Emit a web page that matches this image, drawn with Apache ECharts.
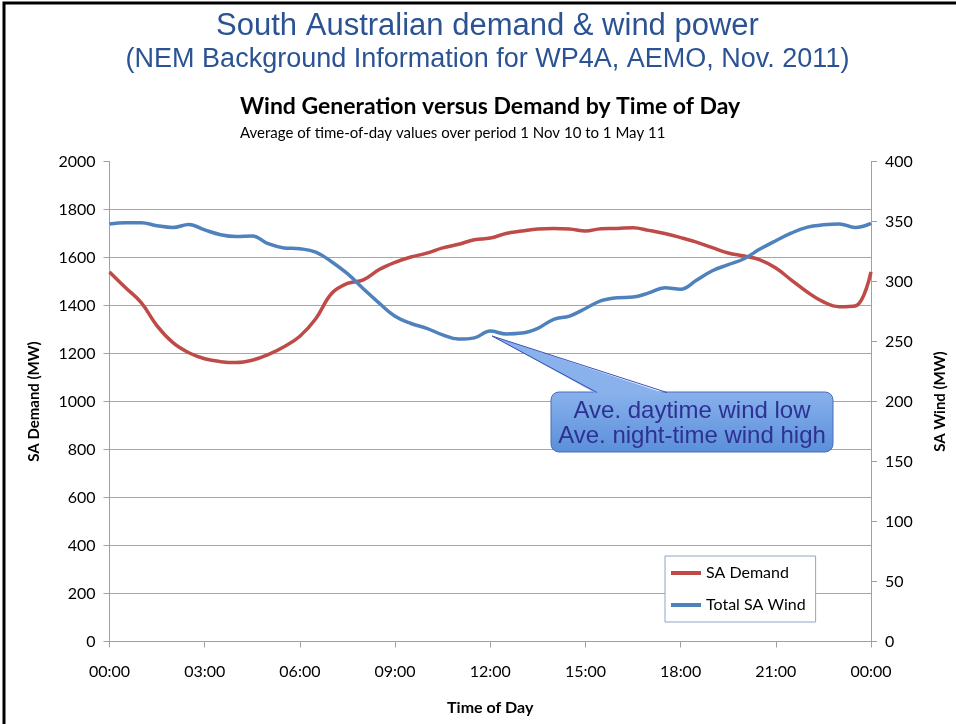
<!DOCTYPE html>
<html>
<head>
<meta charset="utf-8">
<script src="https://cdn.jsdelivr.net/npm/echarts@6/dist/echarts.min.js"></script>
<style>
  html,body{margin:0;padding:0;background:#fff;}
  #main{width:956px;height:724px;}
</style>
</head>
<body>
<div id="main"></div>
<script>
// half-hourly time of day (hours)
var hours = [0,0.5,1,1.5,2,2.5,3,3.5,4,4.5,5,5.5,6,6.5,7,7.5,8,8.5,9,9.5,10,10.5,11,11.5,
             12,12.5,13,13.5,14,14.5,15,15.5,16,16.5,17,17.5,18,18.5,19,19.5,20,20.5,21,21.5,22,22.5,23,23.5,24];
// SA Demand (MW), left axis
var demand = [1540,1475,1412,1315,1245,1203,1178,1166,1162,1172,1195,1228,1272,1345,1450,1492,1507,1550,1580,1602,1618,1640,1655,1674,
              1681,1700,1710,1719,1721,1719,1710,1720,1721,1724,1713,1700,1683,1664,1641,1619,1606,1590,1556,1505,1455,1415,1395,1398,1540];
// Total SA Wind (MW), right axis
var wind = [348,349,349,346.5,345,347.5,343,339,337.5,338,331.5,328,327.3,324.5,316.5,306.5,294,282,271,265,261,255.5,252,253,
            258.7,256.3,257,261,268.5,271.2,277.5,284,286.5,287,290.5,294.8,293.5,301,309,314,319,327,334,340.5,345.3,347.2,348,345,348.5];
var timeLabels = ['00:00','03:00','06:00','09:00','12:00','15:00','18:00','21:00','00:00'];

var demandData = hours.map(function(h,i){ return [h, demand[i]]; });
var windData = hours.map(function(h,i){ return [h, wind[i]]; });

var chart = echarts.init(document.getElementById('main'), null, {renderer:'canvas'});
var labelFont = 'Lato, "Open Sans", sans-serif';
var slideFont = '"Liberation Sans", Arial, sans-serif';
var axisGray = '#A0A0A0';

var option = {
    animation:false,
    backgroundColor:'#fff',
    title:[{
        text:'Wind Generation versus Demand by Time of Day',
        left:235, top:90,
        textStyle:{fontFamily:labelFont, fontWeight:'bold', fontSize:23, color:'#000'}
    },{
        text:'Average of time-of-day values over period 1 Nov 10 to 1 May 11',
        left:235, top:121,
        textStyle:{fontFamily:labelFont, fontWeight:'normal', fontSize:15, color:'#000'}
    }],
    grid:{left:109.5, right:84, top:161.5, bottom:82.5, containLabel:false},
    legend:{
        orient:'vertical',
        left:665, top:556,
        padding:[8,10,8,6],
        itemGap:14,
        itemWidth:30, itemHeight:4,
        icon:'rect',
        borderColor:'#8EA6C8', borderWidth:1,
        backgroundColor:'#fff',
        selectedMode:false,
        textStyle:{fontFamily:labelFont, fontSize:16, color:'#000', lineHeight:18},
        data:['SA Demand','Total SA Wind']
    },
    xAxis:{
        type:'value', min:0, max:24, interval:3,
        name:'Time of Day', nameLocation:'middle', nameGap:58,
        nameTextStyle:{fontFamily:labelFont, fontWeight:'bold', fontSize:16, color:'#000'},
        axisLine:{show:true, lineStyle:{color:axisGray, width:1}},
        axisTick:{show:true, length:6, lineStyle:{color:axisGray}},
        axisLabel:{margin:22, fontFamily:labelFont, fontSize:16, color:'#000',
            formatter:function(v){ return timeLabels[Math.round(v/3)]; }},
        splitLine:{show:false}
    },
    yAxis:[{
        type:'value', min:0, max:2000, interval:200, position:'left',
        name:'SA Demand (MW)', nameLocation:'middle', nameGap:68, nameRotate:90,
        nameTextStyle:{fontFamily:labelFont, fontWeight:'bold', fontSize:15, color:'#000'},
        axisLine:{show:true, lineStyle:{color:axisGray, width:1}},
        axisTick:{show:true, length:6, lineStyle:{color:axisGray}},
        axisLabel:{margin:14, fontFamily:labelFont, fontSize:16, color:'#000',
            formatter:function(v){ return String(v); }},
        splitLine:{show:true, showMaxLine:false, lineStyle:{color:'#A6A6A6', width:1.2}}
    },{
        type:'value', min:0, max:400, interval:50, position:'right',
        name:'SA Wind (MW)', nameLocation:'middle', nameGap:62, nameRotate:90,
        nameTextStyle:{fontFamily:labelFont, fontWeight:'bold', fontSize:15, color:'#000'},
        axisLine:{show:true, lineStyle:{color:axisGray, width:1}},
        axisTick:{show:true, length:6, lineStyle:{color:axisGray}},
        axisLabel:{margin:14, fontFamily:labelFont, fontSize:16, color:'#000'},
        splitLine:{show:false}
    }],
    series:[{
        name:'SA Demand', type:'line', yAxisIndex:0,
        data:demandData, smooth:0.4, showSymbol:false,
        lineStyle:{color:'#BE4B48', width:3.5},
        itemStyle:{color:'#BE4B48'}, z:2
    },{
        name:'Total SA Wind', type:'line', yAxisIndex:1,
        data:windData, smooth:0.4, showSymbol:false,
        lineStyle:{color:'#4F81BD', width:3.5},
        itemStyle:{color:'#4F81BD'}, z:3
    }],
    graphic:[
        // slide titles
        {type:'text', x:487.5, y:11,
         style:{text:'South Australian demand & wind power', fill:'#2B5394',
                font:'31px ' + slideFont, align:'center', verticalAlign:'top'}, z:60},
        {type:'text', x:487.5, y:46,
         style:{text:'(NEM Background Information for WP4A, AEMO, Nov. 2011)', fill:'#2B5394',
                font:'27px ' + slideFont, align:'center', verticalAlign:'top'}, z:60},
        // slide frame (top and left edges)
        {type:'rect', shape:{x:4, y:3, width:1000, height:800}, style:{fill:null, stroke:'#000', lineWidth:3}, z:100},
        // callout box
        {type:'rect', shape:{x:551, y:392, width:282, height:60, r:8},
         style:{fill:new echarts.graphic.LinearGradient(0,0,0,1,[{offset:0,color:'#89B2EC'},{offset:1,color:'#5A8FDA'}]),
                stroke:'#4A6CB8', lineWidth:1}, z:50},
        {type:'polygon', shape:{points:[[492,336],[597,394],[667,394]]},
         style:{fill:'#89B2EC', stroke:null}, z:51},
        {type:'polyline', shape:{points:[[597,392.5],[492,336],[667,392.5]]},
         style:{fill:null, stroke:'#3A4FB0', lineWidth:1}, z:52},
        {type:'text', x:692, y:399,
         style:{text:'Ave. daytime wind low\nAve. night-time wind high', fill:'#2E3192',
                font:'24px ' + slideFont, align:'center', verticalAlign:'top', lineHeight:25}, z:53}
    ]
};
chart.setOption(option);
</script>
</body>
</html>
